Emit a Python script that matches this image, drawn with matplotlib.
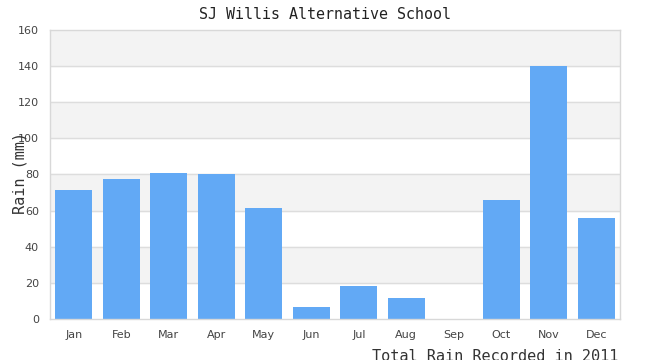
import numpy as np
import matplotlib
matplotlib.use("Agg")
import matplotlib.pyplot as plt

# Monatliche Regenmenge (mm)
months = ["Jan", "Feb", "Mar", "Apr", "May", "Jun",
          "Jul", "Aug", "Sep", "Oct", "Nov", "Dec"]
rain = [71.4, 77.5, 80.8, 80.3, 61.5, 6.6, 18.3, 11.6, 0, 65.9, 140, 56]
y_ticks = [0, 20, 40, 60, 80, 100, 120, 140, 160]

fig = plt.figure(figsize=(6.5, 3.6), dpi=100)
ax = fig.add_axes([0.077, 0.114, 0.877, 0.803])

# alternating bands
for i in range(len(y_ticks) - 1):
    if i % 2 == 1:
        ax.axhspan(y_ticks[i], y_ticks[i + 1], color="#f3f3f3", zorder=0)
for t in y_ticks[1:-1]:
    ax.axhline(t, color="#dddddd", lw=1, zorder=1)

x = np.arange(len(months))
ax.bar(x, rain, width=0.78, color="#62a9f5", zorder=2)

ax.set_xlim(-0.5, len(months) - 0.5)
ax.set_ylim(0, 160)
ax.set_yticks(y_ticks)
ax.set_xticks(x)
ax.set_xticklabels(months)
ax.tick_params(length=0, labelsize=8, colors="#444444", pad=8)
for s in ax.spines.values():
    s.set_color("#d8d8d8")
    s.set_linewidth(1)

fig.text(0.5, 0.96, "SJ Willis Alternative School", ha="center", va="center",
         fontfamily="DejaVu Sans Mono", fontsize=10.8, color="#222222")
fig.text(0.031, 0.52, "Rain (mm)", rotation=90, ha="center", va="center",
         fontfamily="DejaVu Sans Mono", fontsize=11, color="#333333")
fig.text(0.951, -0.012, "Total Rain Recorded in 2011", ha="right", va="bottom",
         fontfamily="DejaVu Sans Mono", fontsize=11, color="#333333")

fig.savefig("out.png", dpi=100)
